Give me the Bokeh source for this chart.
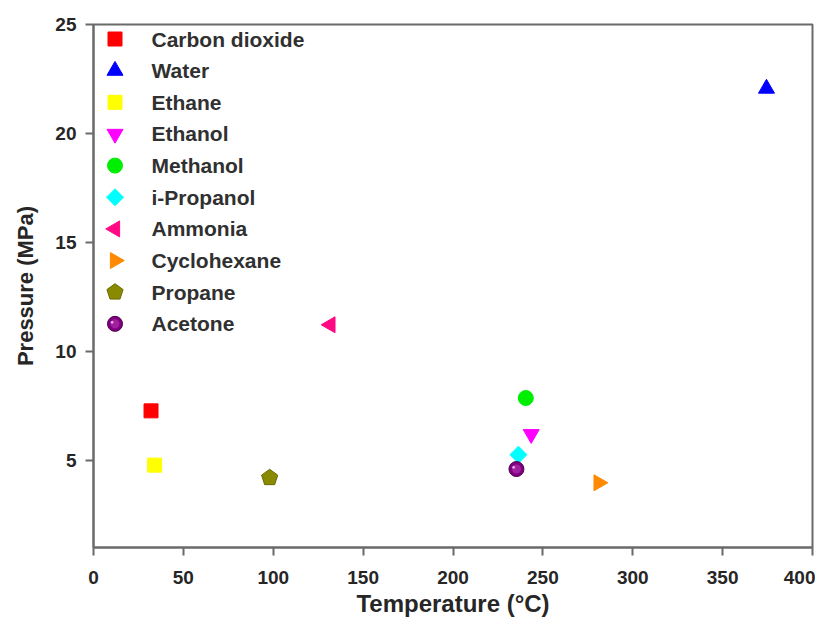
import math
from bokeh.plotting import figure
from bokeh.models import Range1d, FixedTicker
from bokeh.core.properties import value
from bokeh.embed import file_html
from bokeh.resources import INLINE

names = ["Carbon dioxide", "Water", "Ethane", "Ethanol", "Methanol",
         "i-Propanol", "Ammonia", "Cyclohexane", "Propane", "Acetone"]
temps = [32.0, 374.4, 34.0, 243.5, 240.5, 236.4, 131.8, 281.0, 98.0, 235.3]
pressures = [7.27, 22.06, 4.78, 6.2, 7.86, 5.26, 11.22, 3.97, 4.2, 4.6]
colors = ["#ff0000", "#0000ff", "#ffff00", "#ff00ff", "#00ee00",
          "#00ffff", "#ff0a84", "#ff8a00", "#8a8a00", "#800080"]
markers = ["square", "triangle", "square", "inverted_triangle", "circle",
           "diamond", "triangle_left", "triangle_right", "pentagon", "sphere"]

x_ticks = [0, 50, 100, 150, 200, 250, 300, 350, 400]
y_ticks = [5, 10, 15, 20, 25]

FONT = "Liberation Sans"
X0, X1, Y0, Y1 = 0, 400, 1, 25
FW, FH = 719, 523
PX_X = FW / (X1 - X0)   # pixels per degree
PX_Y = FH / (Y1 - Y0)   # pixels per MPa

p = figure(frame_width=FW, frame_height=FH, output_backend="svg",
           toolbar_location=None, min_border_left=93, min_border_top=24,
           min_border_right=3, min_border_bottom=72,
           x_range=Range1d(X0, X1), y_range=Range1d(Y0, Y1))

p.xgrid.visible = False
p.ygrid.visible = False
p.outline_line_color = "#6a6a6a"
p.outline_line_width = 2

STYLE = {
    "square": dict(marker="square", size=14, angle=0),
    "triangle": dict(marker="triangle", size=16, angle=0),
    "inverted_triangle": dict(marker="inverted_triangle", size=16, angle=0),
    "triangle_left": dict(marker="triangle", size=16, angle=math.pi / 2),
    "triangle_right": dict(marker="triangle", size=16, angle=-math.pi / 2),
    "circle": dict(marker="circle", size=15, angle=0),
    "diamond": dict(marker="square", size=12, angle=math.pi / 4),
}


def draw_marker(x, y, kind, color):
    if kind == "pentagon":
        r = 8.5
        xs = [x + r * math.cos(math.pi / 2 + k * 2 * math.pi / 5) / PX_X for k in range(5)]
        ys = [y + r * math.sin(math.pi / 2 + k * 2 * math.pi / 5) / PX_Y for k in range(5)]
        p.patch(xs, ys, fill_color=color, line_color="#6b6b00", line_width=1)
        return
    if kind == "sphere":
        p.scatter([x], [y], marker="circle", size=15, fill_color=color,
                  line_color="#4a004a", line_width=1)
        p.scatter([x], [y], marker="circle", size=9, fill_color="#a020a0",
                  line_color=None)
        p.text([x], [y], text=["●"], x_offset=-3, y_offset=-2,
               text_font_size="6px", text_color="#f0c0f0",
               text_align="center", text_baseline="middle")
        return
    st = STYLE[kind]
    p.scatter([x], [y], marker=st["marker"], size=st["size"], angle=st["angle"],
              fill_color=color, line_color=color, line_width=1)


for i in range(len(names)):
    draw_marker(temps[i], pressures[i], markers[i], colors[i])

# legend drawn inside the frame (positions derived from pixel layout)
LEG_GLYPH_PX = 21.5
LEG_TEXT_PX = 58
LEG_TOP_PX = 14.5
LEG_PITCH_PX = 31.65
leg_x = X0 + LEG_GLYPH_PX / PX_X
leg_tx = X0 + LEG_TEXT_PX / PX_X
leg_y = [Y1 - (LEG_TOP_PX + i * LEG_PITCH_PX) / PX_Y for i in range(len(names))]
for i in range(len(names)):
    draw_marker(leg_x, leg_y[i], markers[i], colors[i])
p.text([leg_tx] * len(names), leg_y, text=names, text_font=value(FONT),
       text_font_style="bold", text_font_size="21px", text_color="#303030",
       text_align="left", text_baseline="middle")

for ax in (p.xaxis[0], p.yaxis[0]):
    ax.axis_line_color = "#6a6a6a"
    ax.axis_line_width = 2
    ax.major_tick_line_color = "#6a6a6a"
    ax.major_tick_line_width = 2
    ax.major_tick_out = 8
    ax.major_tick_in = 0
    ax.minor_tick_line_color = None
    ax.major_label_text_font = FONT
    ax.major_label_text_font_style = "bold"
    ax.major_label_text_font_size = "19px"
    ax.major_label_text_color = "#262626"
    ax.axis_label_text_font = FONT
    ax.axis_label_text_font_style = "bold"
    ax.axis_label_text_color = "#262626"

p.xaxis.ticker = FixedTicker(ticks=x_ticks)
p.yaxis.ticker = FixedTicker(ticks=y_ticks)
p.xaxis.axis_label = "Temperature (°C)"
p.yaxis.axis_label = "Pressure (MPa)"
p.xaxis.axis_label_text_font_size = "24px"
p.yaxis.axis_label_text_font_size = "22px"
p.xaxis.major_label_standoff = 15
p.xaxis.axis_label_standoff = 3
p.yaxis.major_label_standoff = 9
p.yaxis.axis_label_standoff = 14

open("out.html", "w").write(file_html(p, INLINE))
